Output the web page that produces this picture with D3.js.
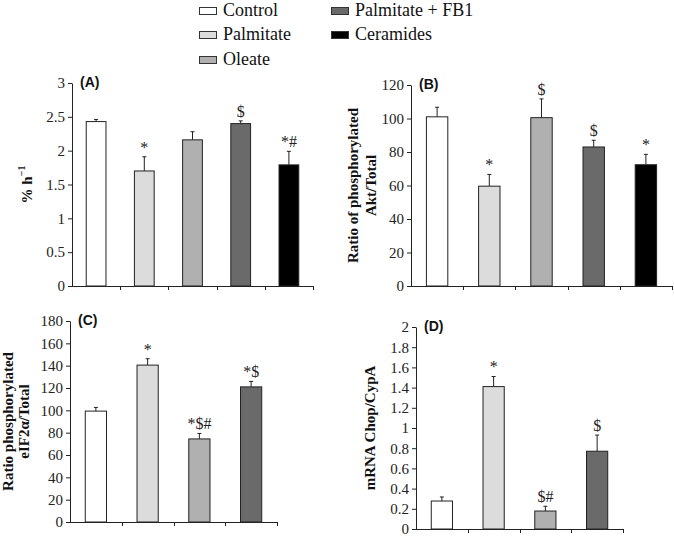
<!DOCTYPE html>
<html><head><meta charset="utf-8">
<script src="https://cdn.jsdelivr.net/npm/d3@7"></script>
<style>body{margin:0;background:#fff}svg{display:block}</style>
</head><body>
<svg id="c" width="674" height="537"></svg>
<script>
const groups = ["Control","Palmitate","Oleate","Palmitate + FB1","Ceramides"];
const colors = ["#ffffff","#dcdcdc","#b0b0b0","#6a6a6a","#000000"];

const valuesA = [2.43,1.70,2.16,2.40,1.79];
const errA    = [0.03,0.21,0.12,0.04,0.20];
const marksA  = ["","*","","$","*#"];
const ticksA  = [0,0.5,1,1.5,2,2.5,3];

const valuesB = [101,59.6,100.5,83,72.4];
const errB    = [5.7,7,11.2,4,6.2];
const marksB  = ["","*","$","$","*"];
const ticksB  = [0,20,40,60,80,100,120];

const valuesC = [99.3,140.5,74.4,121];
const errC    = [3.3,5.7,4.9,4.9];
const marksC  = ["","*","*$#","*$"];
const ticksC  = [0,20,40,60,80,100,120,140,160,180];

const valuesD = [0.277,1.41,0.178,0.77];
const errD    = [0.04,0.10,0.047,0.16];
const marksD  = ["","*","$#","$"];
const ticksD  = [0,0.2,0.4,0.6,0.8,1,1.2,1.4,1.6,1.8,2];

const svg = d3.select("#c");
const serif = "'Liberation Serif', 'Times New Roman', 'DejaVu Serif', serif";
const sans = "'Liberation Sans', Arial, sans-serif";

// Legend
const legendItems = [
  {i:0,x:199,y:16},{i:1,x:199,y:40},{i:2,x:199,y:65},
  {i:3,x:331,y:16},{i:4,x:331,y:40}
];
legendItems.forEach(d=>{
  svg.append("rect").attr("x",d.x+0.5).attr("y",d.y-8.5).attr("width",17).attr("height",7)
    .attr("fill",colors[d.i]).attr("stroke","#333").attr("stroke-width",1);
  svg.append("text").attr("x",d.x+24).attr("y",d.y).style("font-family",serif)
    .style("font-size","18px").attr("fill","#111").text(groups[d.i]);
});

function panel(cfg){
  const n = cfg.values.length;
  const x = d3.scaleBand().domain(d3.range(n)).range([cfg.x0,cfg.x1]).paddingInner(0).paddingOuter(0);
  const y = d3.scaleLinear().domain([0,cfg.max]).range([cfg.yb,cfg.yt]);
  const g = svg.append("g");
  const bw = x.bandwidth()*0.41;
  cfg.values.forEach((v,i)=>{
    const cx = x(i)+x.bandwidth()/2;
    const top = y(v+cfg.err[i]);
    g.append("line").attr("x1",cx).attr("x2",cx).attr("y1",y(v)).attr("y2",top)
      .attr("stroke","#222").attr("stroke-width",1);
    g.append("line").attr("x1",cx-2).attr("x2",cx+2).attr("y1",top).attr("y2",top)
      .attr("stroke","#222").attr("stroke-width",1);
    g.append("rect").attr("x",cx-bw/2).attr("y",y(v)).attr("width",bw).attr("height",y(0)-y(v))
      .attr("fill",colors[i]).attr("stroke","#222").attr("stroke-width",1);
    if(cfg.marks[i]){
      g.append("text").attr("x",cx).attr("y",top-4).attr("text-anchor","middle")
        .style("font-family",serif).style("font-size","16px").attr("fill","#222").text(cfg.marks[i]);
    }
  });
  const ya = g.append("g").attr("transform",`translate(${cfg.x0},0)`)
    .call(d3.axisLeft(y).tickValues(cfg.ticks).tickSize(4).tickSizeOuter(0).tickPadding(3)
      .tickFormat(d=>String(d)));
  ya.attr("font-family",null).attr("font-size",null);
  ya.selectAll("text").style("font-family",serif).style("font-size","15px").attr("fill","#222");
  ya.selectAll("line,path").attr("stroke","#222");
  const xa = g.append("g");
  xa.append("line").attr("x1",cfg.x0).attr("x2",cfg.x1).attr("y1",y(0)+0.5).attr("y2",y(0)+0.5)
    .attr("stroke","#222");
  d3.range(1,n+1).forEach(k=>{
    const xx = Math.round(cfg.x0 + k*x.bandwidth())+0.5;
    xa.append("line").attr("x1",xx).attr("x2",xx).attr("y1",y(0)).attr("y2",y(0)+4).attr("stroke","#222");
  });
  g.append("text").attr("x",cfg.x0+8).attr("y",cfg.yt+4).style("font-family",sans)
    .style("font-weight","bold").style("font-size","14px").attr("fill","#111").text(cfg.label);
  const cy = (cfg.yt+cfg.yb)/2;
  cfg.title.forEach((t,k)=>{
    const tx = cfg.titleX[k];
    const el = g.append("text").attr("transform",`translate(${tx},${cy}) rotate(-90)`)
      .attr("text-anchor","middle").attr("dominant-baseline","middle")
      .style("font-family",serif).style("font-weight","bold").style("font-size","15px").attr("fill","#111");
    if(typeof t === "string") el.text(t);
    else { el.append("tspan").text(t[0]); el.append("tspan").attr("dy",-6).style("font-size","10px").text(t[1]); }
  });
}

panel({x0:72,x1:313,yb:286,yt:83,max:3,values:valuesA,err:errA,marks:marksA,ticks:ticksA,
  label:"(A)",title:[["% h","\u22121"]],titleX:[29]});
panel({x0:411,x1:672,yb:286,yt:85,max:120,values:valuesB,err:errB,marks:marksB,ticks:ticksB,
  label:"(B)",title:["Ratio of phosphorylated","Akt/Total"],titleX:[355,373]});
panel({x0:70,x1:277,yb:522,yt:321,max:180,values:valuesC,err:errC,marks:marksC,ticks:ticksC,
  label:"(C)",title:["Ratio phosphorylated","eIF2\u03b1/Total"],titleX:[10,26]});
panel({x0:416,x1:623,yb:529,yt:327,max:2,values:valuesD,err:errD,marks:marksD,ticks:ticksD,
  label:"(D)",title:["mRNA Chop/CypA"],titleX:[372]});
</script>
</body></html>
